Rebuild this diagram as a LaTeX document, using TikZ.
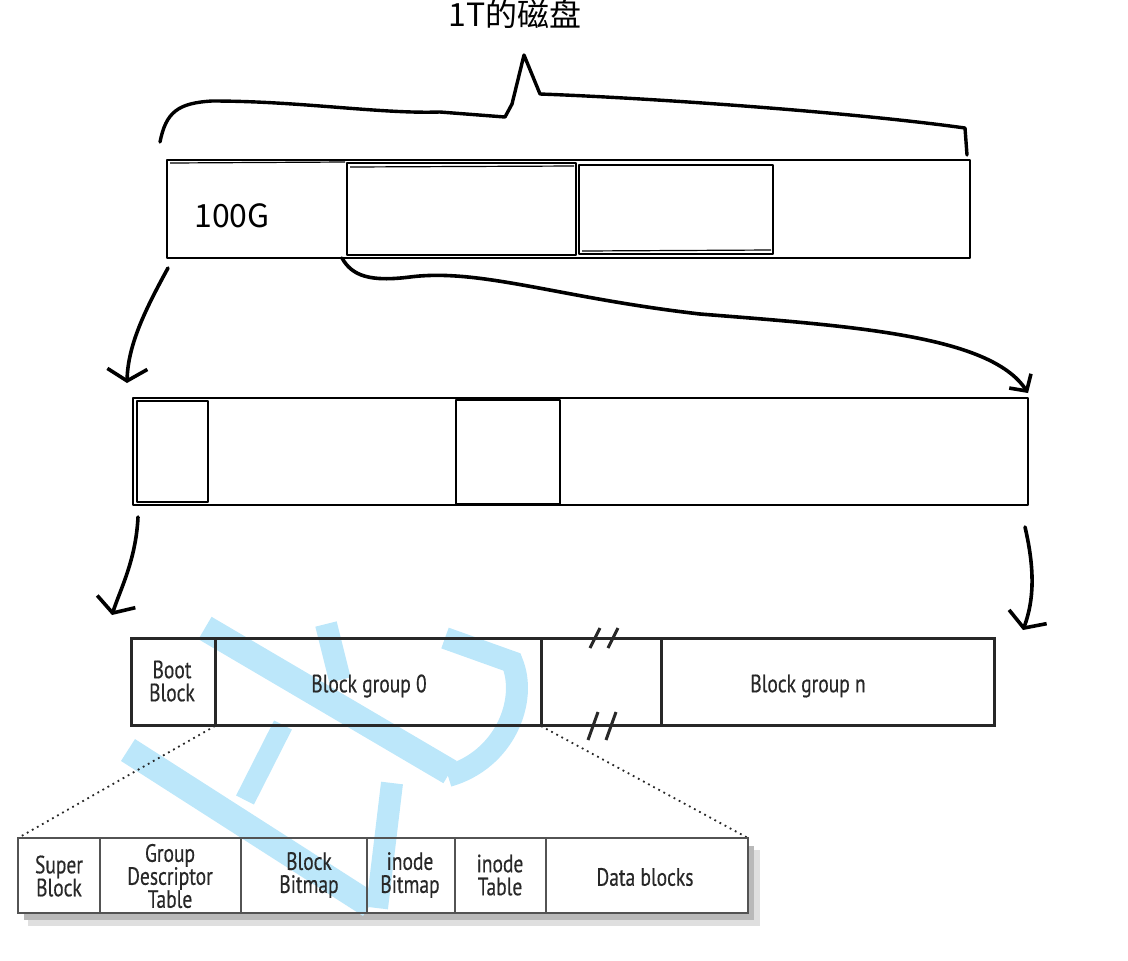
\documentclass[tikz,border=0pt]{standalone}
\usepackage{fontspec}
\usepackage{xcolor}
\usetikzlibrary{arrows.meta}
\newfontfamily\cjkfont{Noto Sans CJK SC}
\newfontfamily\labelfont{PT Sans}[FakeStretch=0.78,FakeBold=0.4]
\definecolor{wmblue}{RGB}{188,231,250}
\definecolor{inkgray}{RGB}{40,40,40}

\tikzset{
  sketch/.style={line width=1.4pt, line cap=round, line join=round},
  sketcharrow/.style={sketch, line width=1.8pt, -{Straight Barb[length=6pt,width=20pt]}},
  cell/.style={font=\labelfont\fontsize{12.5}{11.5}\selectfont, text=inkgray, align=center},
  blk/.style={draw=inkgray, line width=1.5pt},
  tbl/.style={draw=inkgray!80, line width=1pt},
  wm/.style={draw=wmblue, line width=13pt}
}

\begin{document}
\begin{tikzpicture}[x=0.5pt,y=-0.5pt]
    \useasboundingbox (0,0) rectangle (1128,960);

    % title and brace
    \node[font=\cjkfont\fontsize{16}{16}\selectfont] (title) at (515,14) {1T的磁盘};
    \draw[sketch, line width=1.7pt] (160,142) .. controls (166,112) and (178,103) .. (212,101)
        .. controls (300,101) and (380,114) .. (440,112) -- (505,117)
        -- (512,104) -- (524,55) -- (540,94)
        .. controls (650,98) and (850,112) .. (965,128) -- (967,155);

    % 1T disk
    \coordinate (d0) at (167,160);
    \coordinate (d1) at (970,258);
    \draw[sketch] (d0) rectangle (d1);
    \draw[line width=0.6pt] (170,163) -- (345,162);
    \draw[sketch] (347,163) rectangle (576,255);
    \draw[sketch] (579,165) rectangle (773,254);
    \draw[line width=0.6pt] (350,167) -- (574,166);
    \draw[line width=0.6pt] (582,251) -- (771,250);
    \node[font=\cjkfont\fontsize{16}{16}\selectfont] (part) at (232,216) {100G};

    % one partition
    \coordinate (p0) at (133,398);
    \coordinate (p1) at (1028,505);
    \draw[sketch] (p0) rectangle (p1);
    \draw[sketch] (137,401) rectangle (208,502);
    \draw[sketch] (456,400) rectangle (560,504);

    % hand arrows
    \coordinate (a1s) at (168,268);
    \coordinate (a1e) at (127,383);
    \coordinate (a2s) at (342,258);
    \coordinate (a2e) at (1028,393);
    \coordinate (a3s) at (138,517);
    \coordinate (a3e) at (112,615);
    \coordinate (a4s) at (1025,527);
    \coordinate (a4e) at (1023,630);
    \draw[sketcharrow] (a1s) .. controls (145,310) and (128,345) .. (a1e);
    \draw[sketcharrow, -{Straight Barb[length=6pt,width=13pt]}] (a2s) .. controls (352,276) and (370,282) .. (410,277)
        .. controls (480,268) and (560,298) .. (700,314)
        .. controls (850,326) and (990,335) .. (a2e);
    \draw[sketcharrow] (a3s) .. controls (136,560) and (120,590) .. (a3e);
    \draw[sketcharrow] (a4s) .. controls (1035,570) and (1034,600) .. (a4e);

    % table shadow
    \fill[gray!25] (28,850) rectangle (760,926);
    \fill[gray!55] (24,846) rectangle (754,920);
    \fill[white] (18,838) rectangle (748,913);

    % watermark
    \draw[wm] (205,628) -- (450,772);
    \draw[wm, line width=11pt] (445,638) -- (512,662) .. controls (528,700) and (505,760) .. (448,776);
    \draw[wm, line width=11pt] (326,624) -- (340,680);
    \draw[wm] (128,750) -- (370,905);
    \draw[wm, line width=10pt] (283,725) -- (245,800);
    \draw[wm, line width=11pt] (392,783) -- (377,908);

    % layout of a partition
    \draw[blk] (131,638) rectangle (994,725);
    \draw[blk] (215,638) -- (215,725);
    \draw[blk] (541,638) -- (541,725);
    \draw[blk] (661,638) -- (661,725);
    \draw[blk] (590,648) -- (600,628);
    \draw[blk] (608,648) -- (618,628);
    \draw[blk] (588,740) -- (598,712);
    \draw[blk] (606,740) -- (616,712);
    \node[cell] (boot) at (172,681) {Boot\\Block};
    \node[cell] (bg0) at (369,686) {Block group 0};
    \node[cell] (bgn) at (808,686) {Block group n};

    % zoom lines
    \coordinate (z0) at (215,726);
    \coordinate (z1) at (541,726);
    \coordinate (t0) at (18,838);
    \coordinate (t1) at (748,838);
    \draw[dotted, inkgray, line width=0.9pt] (z0) -- (t0);
    \draw[dotted, inkgray, line width=0.9pt] (z1) -- (t1);

    % layout of a block group
    \draw[tbl] (t0) rectangle (748,913);
    \foreach \x in {100,241,367,455,546}
        \draw[tbl] (\x,838) -- (\x,913);
    \node[cell] (sb) at (59,876) {Super\\Block};
    \node[cell] (gdt) at (170,876) {Group\\Descriptor\\Table};
    \node[cell] (bbm) at (309,875) {Block\\Bitmap};
    \node[cell] (ibm) at (410,875) {inode\\Bitmap};
    \node[cell] (itb) at (500,875) {inode\\Table};
    \node[cell] (data) at (645,877) {Data blocks};

\end{tikzpicture}
\end{document}
